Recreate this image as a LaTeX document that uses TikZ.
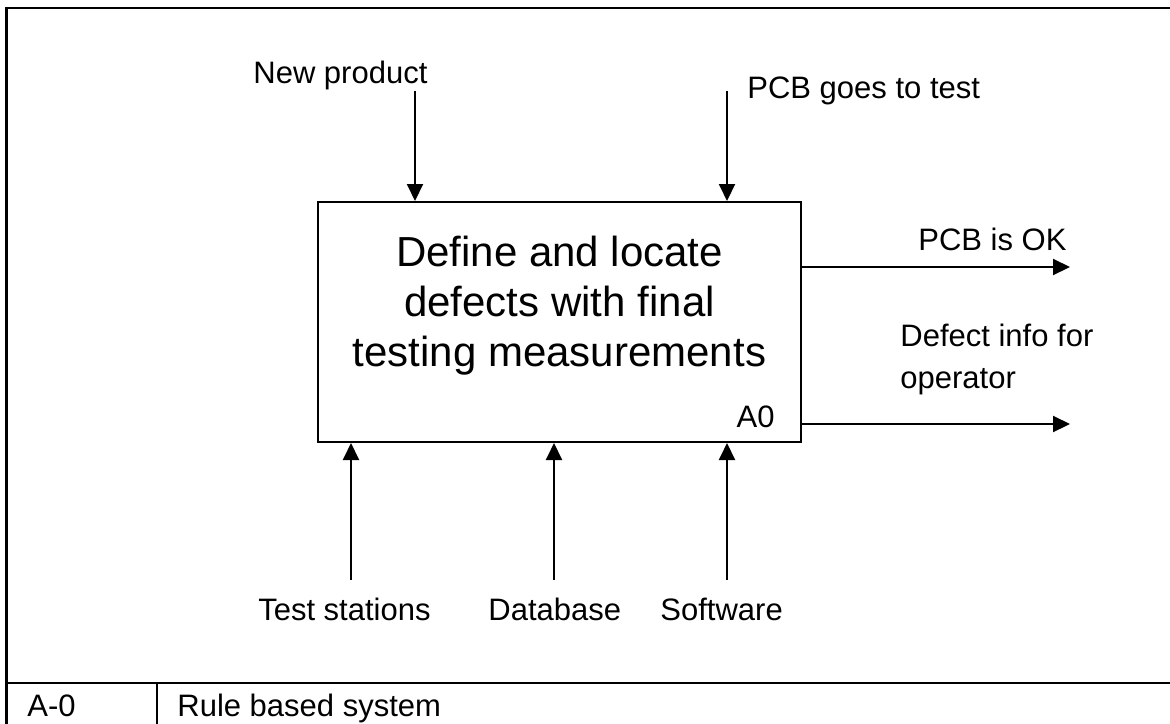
\documentclass[tikz,border=0pt]{standalone}
\usepackage{fontspec}
\setmainfont{Liberation Sans}
\usetikzlibrary{arrows.meta}
\begin{document}
\begin{tikzpicture}[x=0.5pt,y=-0.5pt,
  frame/.style={line width=1.2pt},
  proc/.style={draw, line width=1pt, minimum width=241.5pt, minimum height=120pt, inner sep=0pt},
  flow/.style={line width=1pt, -{Triangle[width=8pt,length=8.5pt]}},
  lbl/.style={font=\fontsize{15.5pt}{17pt}\selectfont, inner sep=0pt},
  big/.style={font=\fontsize{21pt}{25pt}\selectfont, align=center, inner sep=0pt},
]
\path[use as bounding box] (0,0) rectangle (1170,723);
\clip (0,0) rectangle (1170,723);

% outer frame and the title strip
\draw[frame] (6.5,740) -- (6.5,8) -- (1190,8);
\draw[frame] (6.5,683) -- (1190,683);
\draw[frame] (157,683) -- (157,740);
\node[lbl, anchor=base west] (nodeid) at (27,716) {A-0};
\node[lbl, anchor=base west] (title) at (177,716) {Rule based system};

% activity box
\node[proc] (box) at (559.5,322) {};
\node[big] (boxtext) at ([yshift=8pt]box.center) {Define and locate\\defects with final\\testing measurements};
\node[lbl, anchor=base east] (boxid) at (775,427) {A0};

% inputs from above
\node[lbl, anchor=base west] (newprod) at (253,83) {New product};
\coordinate (newprodtail) at (415,91);
\draw[flow] (newprodtail) -- (newprodtail |- box.north);

\node[lbl, anchor=base west] (pcbtest) at (747,98) {PCB goes to test};
\coordinate (pcbtesttail) at (727,91);
\draw[flow] (pcbtesttail) -- (pcbtesttail |- box.north);

% outputs to the right
\node[lbl, anchor=base west] (pcbok) at (918,250) {PCB is OK};
\coordinate (pcbokhead) at (1070,267);
\draw[flow] (pcbokhead -| box.east) -- (pcbokhead);

\node[lbl, anchor=base west] (defect1) at (900,346) {Defect info for};
\node[lbl, anchor=base west] (defect2) at (900,388) {operator};
\coordinate (defecthead) at (1070,424);
\draw[flow] (defecthead -| box.east) -- (defecthead);

% mechanisms from below
\node[lbl, anchor=base east] (stations) at (431,620) {Test stations};
\coordinate (stationstail) at (351,580);
\draw[flow] (stationstail) -- (stationstail |- box.south);

\node[lbl, anchor=base west] (database) at (488,620) {Database};
\coordinate (databasetail) at (554,580);
\draw[flow] (databasetail) -- (databasetail |- box.south);

\node[lbl, anchor=base west] (software) at (660,620) {Software};
\coordinate (softwaretail) at (727,580);
\draw[flow] (softwaretail) -- (softwaretail |- box.south);
\end{tikzpicture}
\end{document}
